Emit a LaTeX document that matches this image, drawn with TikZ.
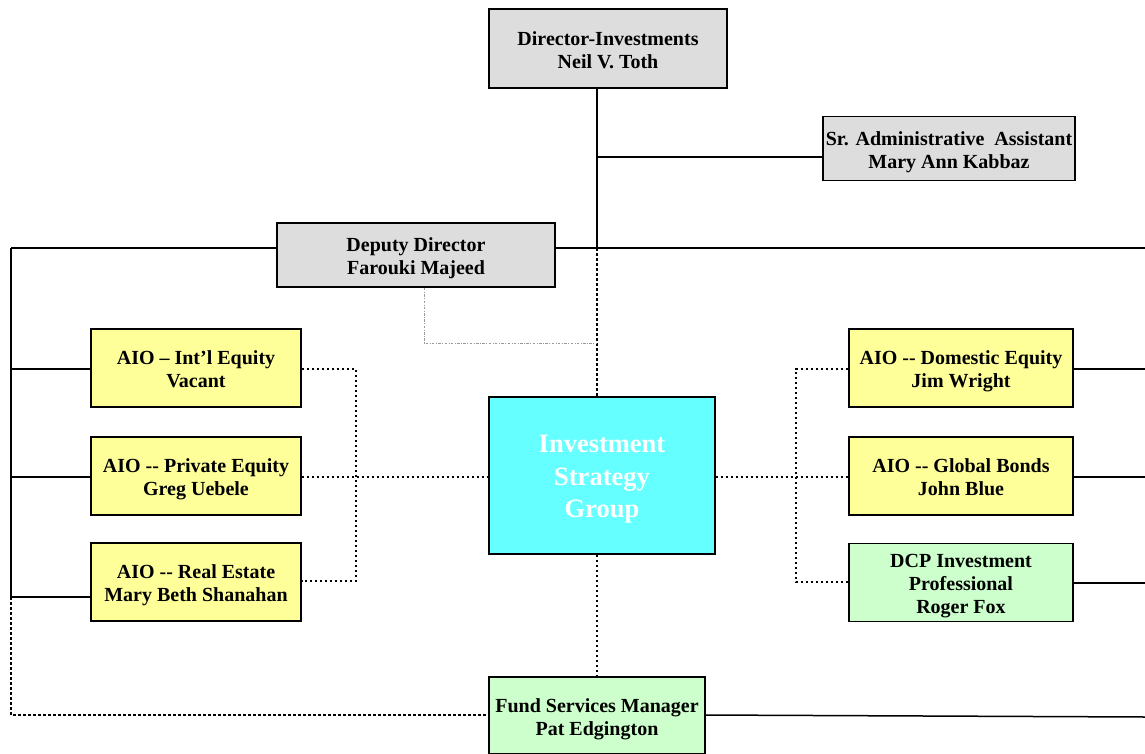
\documentclass[tikz,border=0pt]{standalone}
\usepackage{fontspec}
\setmainfont{Liberation Serif}
\definecolor{boxgray}{HTML}{DDDDDD}
\definecolor{boxyellow}{HTML}{FFFF99}
\definecolor{boxgreen}{HTML}{CCFFCC}
\definecolor{boxcyan}{HTML}{66FFFF}
\newcommand{\topst}{\rule{0pt}{21pt}}
\newcommand{\botst}{\rule[-5pt]{0pt}{5pt}}
\newcommand{\btopst}{\rule{0pt}{25pt}}
\newcommand{\bbotst}{\rule[-6pt]{0pt}{6pt}}
\begin{document}
\begin{tikzpicture}[x=1pt,y=-1pt,
  box/.style={draw=black, line width=1.8pt, inner sep=0pt, align=center,
    font=\fontsize{20}{23}\selectfont\bfseries},
  conn/.style={line width=1.5pt},
  dot/.style={line width=1.5pt, dash pattern=on 2.5pt off 2.5pt},
  graydot/.style={line width=0.8pt, draw=gray!80, dash pattern=on 2.5pt off 1.5pt on 0.8pt off 1.5pt}]
\useasboundingbox (0,0) rectangle (1145,753);
\clip (0,0) rectangle (1145,753);
\node[box, fill=boxgray, minimum width=238pt, minimum height=79pt] (dir) at (608,48.5) {\topst Director-Investments\\Neil V. Toth\botst};
\node[box, fill=boxgray, minimum width=252pt, minimum height=64pt] (sra) at (949,148.5) {\topst Sr. Administrative\ \ Assistant\\Mary Ann Kabbaz\botst};
\node[box, fill=boxgray, minimum width=278pt, minimum height=64pt] (dep) at (416,255) {\topst Deputy Director\\Farouki Majeed\botst};
\node[box, fill=boxyellow, minimum width=210pt, minimum height=78pt] (intl) at (196,368) {\topst AIO -- Int'l Equity\\Vacant\botst};
\node[box, fill=boxyellow, minimum width=210pt, minimum height=78pt] (priv) at (196,476) {\topst AIO -{}- Private Equity\\Greg Uebele\botst};
\node[box, fill=boxyellow, minimum width=210pt, minimum height=78pt] (real) at (196,582) {\topst AIO -{}- Real Estate\\Mary Beth Shanahan\botst};
\node[box, fill=boxcyan, text=white, minimum width=226pt, minimum height=157pt,
  font=\fontsize{26.5}{32.5}\selectfont\bfseries] (isg) at (602,475.5) {\btopst Investment\\Strategy\\Group\bbotst};
\node[box, fill=boxyellow, minimum width=224pt, minimum height=78pt] (dom) at (961,368) {\topst AIO -{}- Domestic Equity\\Jim Wright\botst};
\node[box, fill=boxyellow, minimum width=224pt, minimum height=78pt] (bonds) at (961,476) {\topst AIO -{}- Global Bonds\\John Blue\botst};
\node[box, fill=boxgreen, minimum width=224pt, minimum height=78pt] (dcp) at (961,582.5) {\topst DCP Investment\\Professional\\Roger Fox\botst};
\node[box, fill=boxgreen, minimum width=216pt, minimum height=77pt] (fund) at (597,715.5) {\topst Fund Services Manager\\Pat Edgington\botst};
\coordinate (j1) at (597,157);
\coordinate (j2) at (597,248);
\coordinate (L) at (11,248);
\coordinate (R) at (1146,248);
\coordinate (Lb) at (11,597);
\coordinate (d1) at (424,343);
\coordinate (d2) at (597,343);
\coordinate (fr) at (1146,717);
% solid connectors
\draw[conn] (j2 |- dir.south) -- (j2);
\draw[conn] (j1) -- (sra.west |- j1);
\draw[conn] (L) -- (dep.west |- L);
\draw[conn] (dep.east |- L) -- (R);
\draw[conn] (L) -- (Lb);
\draw[conn] (11,369) -- (intl.west |- 0,369);
\draw[conn] (11,477) -- (priv.west |- 0,477);
\draw[conn] (Lb) -- (real.west |- Lb);
\draw[conn] (dom.east |- 0,369) -- (R |- 0,369);
\draw[conn] (bonds.east |- 0,477) -- (R |- 0,477);
\draw[conn] (dcp.east |- 0,583) -- (R |- 0,583);
\draw[conn] (fund.east |- 0,715) -- (fr);
% dotted connectors
\draw[dot] (j2) -- (isg.north -| j2);
\draw[dot] (isg.south -| j2) -- (fund.north -| j2);
\draw[graydot] (dep.south -| d1) -- (d1) -- (d2);
\draw[dot] (intl.east |- 0,369) -- (356,369) -- (356,581) -- (real.east |- 0,581);
\draw[dot] (priv.east |- 0,477) -- (isg.west |- 0,477);
\draw[dot] (isg.east |- 0,477) -- (bonds.west |- 0,477);
\draw[dot] (dom.west |- 0,369) -- (796,369) -- (796,582) -- (dcp.west |- 0,582);
\draw[dot] (Lb) -- (11,715) -- (fund.west |- 0,715);
\end{tikzpicture}
\end{document}
